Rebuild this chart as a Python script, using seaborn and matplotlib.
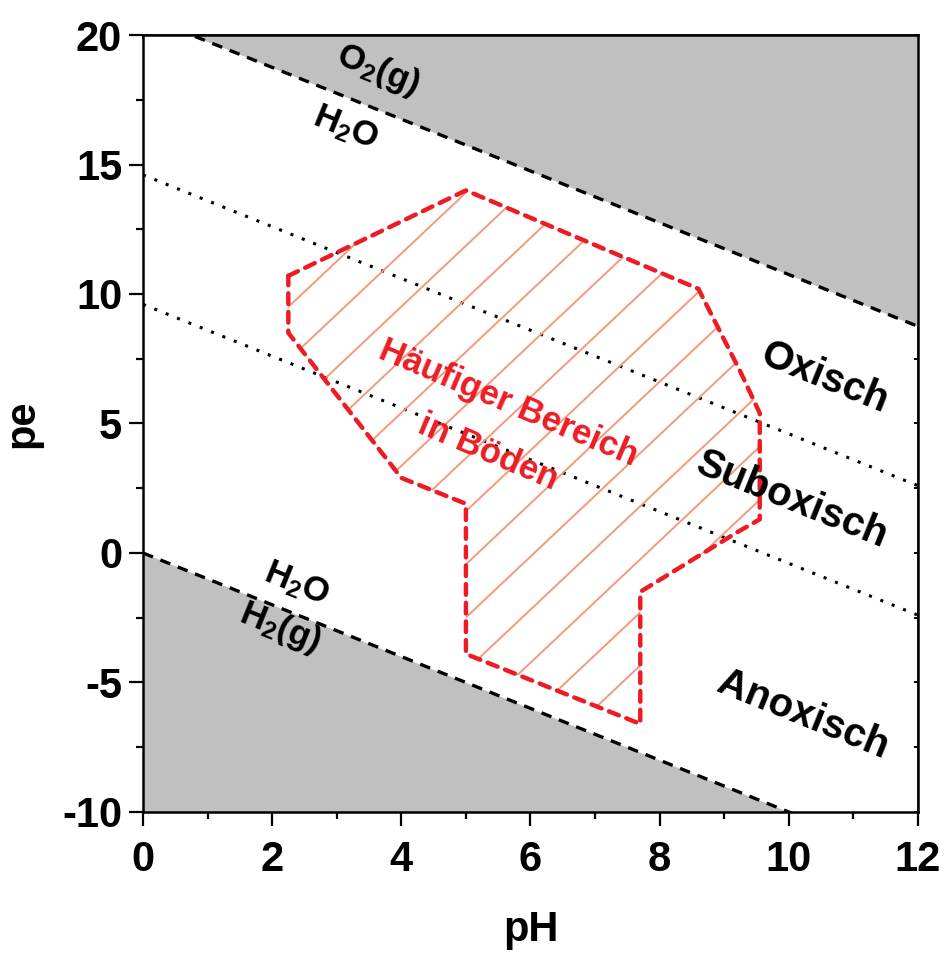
import matplotlib
matplotlib.use('Agg')
import matplotlib.pyplot as plt
from matplotlib.patches import Polygon
from matplotlib.ticker import MultipleLocator
import seaborn as sns
import numpy as np
import pandas as pd

# Grenzlinien des Stabilitaetsfeldes von Wasser (pe gegen pH)
ph_ends = [0, 12]
pe_o2_h2o = [20.75, 8.75]
pe_h2o_h2 = [0.0, -12.0]
# gepunktete Grenzen Oxisch / Suboxisch / Anoxisch
pe_oxic = [14.6, 2.6]
pe_anoxic = [9.6, -2.4]

# haeufiger Bereich in Boeden (Umriss)
soil_ph = [2.25, 5.0, 8.6, 9.25, 9.55, 9.55, 9.2, 7.7, 7.7, 5.0, 5.0, 4.0, 2.25, 2.25]
soil_pe = [10.7, 14.0, 10.2, 7.0, 5.4, 1.3, 0.8, -1.5, -6.6, -3.9, 1.9, 2.9, 8.5, 10.7]

sns.set_theme(style='ticks')
plt.rcParams['font.family'] = ['Liberation Sans', 'DejaVu Sans']
plt.rcParams['font.weight'] = 'bold'
plt.rcParams['axes.unicode_minus'] = False
plt.rcParams['text.color'] = 'black'
plt.rcParams['xtick.color'] = 'black'
plt.rcParams['ytick.color'] = 'black'
plt.rcParams['axes.labelcolor'] = 'black'

fig = plt.figure(figsize=(9.49, 9.59), dpi=100)
ax = fig.add_axes([0.1507, 0.1533, 0.8166, 0.8102])

gray = '#c0c0c0'
red = '#ed1c24'

ax.fill_between(ph_ends, pe_o2_h2o, 20, color=gray, lw=0)
ax.fill_between(ph_ends, pe_h2o_h2, -10, color=gray, lw=0)

df_lines = pd.DataFrame({'pH': ph_ends, 'o2': pe_o2_h2o, 'h2': pe_h2o_h2,
                         'ox': pe_oxic, 'anox': pe_anoxic})
for col in ['o2', 'h2']:
    sns.lineplot(data=df_lines, x='pH', y=col, ax=ax, color='black', lw=2.4,
                 linestyle=(0, (3.2, 2.4)))
for col in ['ox', 'anox']:
    sns.lineplot(data=df_lines, x='pH', y=col, ax=ax, color='black', lw=2.2,
                 linestyle=(0, (1, 3)))

# Schraffur, an den Umriss geschnitten
poly = Polygon(np.column_stack([soil_ph, soil_pe]), closed=True, fc='none', ec='none')
ax.add_patch(poly)
hatch_slope = 2.35
hatch_step = 2.05
hx = np.array([0, 12])
for c in np.arange(-40, 40, hatch_step):
    ln, = ax.plot(hx, hatch_slope * (hx - 2.25) + 8.5 + c, color='#f39a7c', lw=1.4)
    ln.set_clip_path(poly)

df_soil = pd.DataFrame({'pH': soil_ph, 'pe': soil_pe})
sns.lineplot(data=df_soil, x='pH', y='pe', ax=ax, sort=False, estimator=None,
             color=red, lw=3.2, linestyle=(0, (2.4, 1.8)), dash_capstyle='round')

ax.set_xlim(0, 12)
ax.set_ylim(-10, 20)
ax.xaxis.set_major_locator(MultipleLocator(2))
ax.xaxis.set_minor_locator(MultipleLocator(1))
ax.yaxis.set_major_locator(MultipleLocator(5))
ax.yaxis.set_minor_locator(MultipleLocator(2.5))
ax.tick_params(which='major', direction='out', length=10, width=1.6,
               labelsize=30, color='black', labelcolor='black')
ax.tick_params(axis='x', which='major', pad=10)
ax.tick_params(axis='y', which='major', pad=5)
ax.tick_params(which='minor', direction='out', length=5, width=1.6, color='black')
for lab in ax.get_xticklabels() + ax.get_yticklabels():
    lab.set_fontweight('bold')
for sp in ax.spines.values():
    sp.set_linewidth(1.8)
    sp.set_color('black')
    sp.set_visible(True)
    sp.set_zorder(5)

top = ax.secondary_xaxis('top')
top.xaxis.set_major_locator(MultipleLocator(1))
top.tick_params(direction='in', length=3, width=1.4, labeltop=False, color='black')
right = ax.secondary_yaxis('right')
right.yaxis.set_major_locator(MultipleLocator(2.5))
right.tick_params(direction='in', length=3, width=1.4, labelright=False, color='black')

ax.set_xlabel('pH', fontsize=30, fontweight='bold', labelpad=22)
ax.set_ylabel('pe', fontsize=30, fontweight='bold', labelpad=14)

rot = -22
kw = dict(rotation=rot, rotation_mode='anchor', ha='center', va='center',
          fontweight='bold', color='black')
ax.text(3.64, 18.65, r'$\mathregular{O_2(g)}$', fontsize=25, **kw)
ax.text(3.13, 16.4, r'$\mathregular{H_2O}$', fontsize=25, **kw)
ax.text(2.38, -1.2, r'$\mathregular{H_2O}$', fontsize=25, **kw)
ax.text(2.12, -2.9, r'$\mathregular{H_2(g)}$', fontsize=25, **kw)
ax.text(10.56, 6.76, 'Oxisch', fontsize=29, **kw)
ax.text(10.05, 2.05, 'Suboxisch', fontsize=29, **kw)
ax.text(10.22, -6.25, 'Anoxisch', fontsize=29, **kw)
kw['color'] = red
kw['rotation'] = -23
ax.text(5.65, 5.8, 'Häufiger Bereich', fontsize=25, **kw)
ax.text(5.34, 3.9, 'in Böden', fontsize=25, **kw)

fig.savefig('out.png', dpi=100)
